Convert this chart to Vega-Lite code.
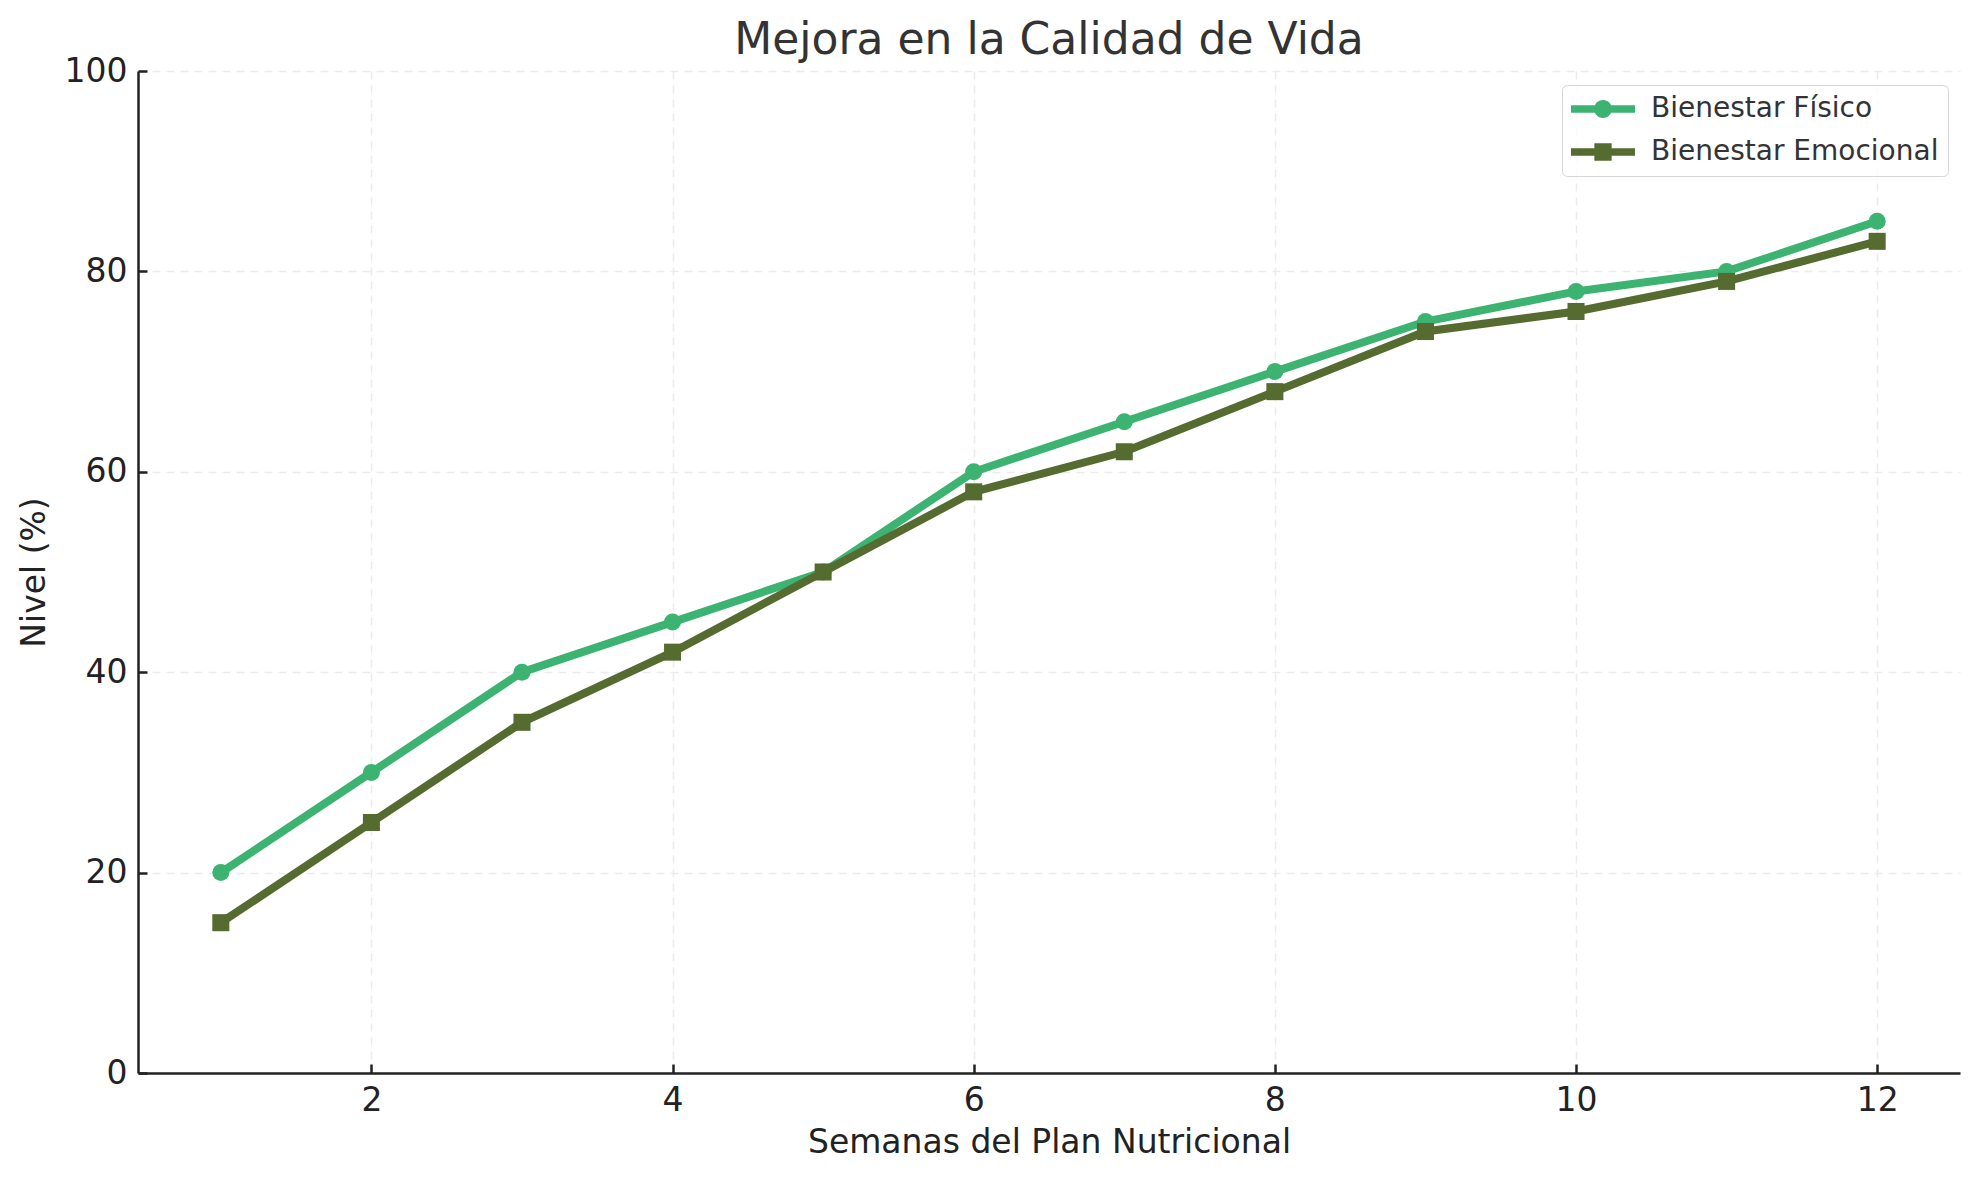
{
  "$schema": "https://vega.github.io/schema/vega-lite/v6.json",
  "width": 1822,
  "height": 1002,
  "autosize": {"type": "none"},
  "padding": {"left": 138, "top": 71, "right": 19, "bottom": 107},
  "background": "white",
  "config": {
    "font": "DejaVu Sans",
    "view": {"stroke": null},
    "axis": {
      "domainColor": "#222222",
      "domainWidth": 2.5,
      "tickColor": "#222222",
      "tickWidth": 2.5,
      "tickSize": -9,
      "labelFontSize": 33,
      "labelColor": "#222222",
      "labelPadding": 20,
      "labelFlush": false,
      "titleFontSize": 33,
      "titleColor": "#222222",
      "titleFontWeight": "normal",
      "grid": true,
      "gridColor": "#ebebeb",
      "gridDash": [8, 6],
      "gridWidth": 1.5
    }
  },
  "title": {
    "text": "Mejora en la Calidad de Vida",
    "fontSize": 44,
    "fontWeight": "normal",
    "color": "#333333",
    "anchor": "middle",
    "baseline": "alphabetic",
    "offset": 16,
    "dy": 59
  },
  "data": {
    "values": [
      {"week": 1, "value": 20, "series": "Bienestar Físico"},
      {"week": 2, "value": 30, "series": "Bienestar Físico"},
      {"week": 3, "value": 40, "series": "Bienestar Físico"},
      {"week": 4, "value": 45, "series": "Bienestar Físico"},
      {"week": 5, "value": 50, "series": "Bienestar Físico"},
      {"week": 6, "value": 60, "series": "Bienestar Físico"},
      {"week": 7, "value": 65, "series": "Bienestar Físico"},
      {"week": 8, "value": 70, "series": "Bienestar Físico"},
      {"week": 9, "value": 75, "series": "Bienestar Físico"},
      {"week": 10, "value": 78, "series": "Bienestar Físico"},
      {"week": 11, "value": 80, "series": "Bienestar Físico"},
      {"week": 12, "value": 85, "series": "Bienestar Físico"},
      {"week": 1, "value": 15, "series": "Bienestar Emocional"},
      {"week": 2, "value": 25, "series": "Bienestar Emocional"},
      {"week": 3, "value": 35, "series": "Bienestar Emocional"},
      {"week": 4, "value": 42, "series": "Bienestar Emocional"},
      {"week": 5, "value": 50, "series": "Bienestar Emocional"},
      {"week": 6, "value": 58, "series": "Bienestar Emocional"},
      {"week": 7, "value": 62, "series": "Bienestar Emocional"},
      {"week": 8, "value": 68, "series": "Bienestar Emocional"},
      {"week": 9, "value": 74, "series": "Bienestar Emocional"},
      {"week": 10, "value": 76, "series": "Bienestar Emocional"},
      {"week": 11, "value": 79, "series": "Bienestar Emocional"},
      {"week": 12, "value": 83, "series": "Bienestar Emocional"}
    ]
  },
  "encoding": {
    "x": {
      "field": "week",
      "type": "quantitative",
      "scale": {"domain": [0.45, 12.55], "nice": false, "zero": false},
      "axis": {"values": [2, 4, 6, 8, 10, 12], "title": "Semanas del Plan Nutricional", "titlePadding": 9}
    },
    "y": {
      "field": "value",
      "type": "quantitative",
      "scale": {"domain": [0, 100], "nice": false},
      "axis": {"values": [0, 20, 40, 60, 80, 100], "title": "Nivel (%)", "titlePadding": 13}
    },
    "color": {
      "field": "series",
      "type": "nominal",
      "scale": {"domain": ["Bienestar Físico", "Bienestar Emocional"], "range": ["#3CB371", "#556B2F"]},
      "legend": null
    }
  },
  "layer": [
    {
      "mark": {"type": "line", "strokeWidth": 8}
    },
    {
      "mark": {"type": "point", "filled": true, "size": 290, "opacity": 1},
      "encoding": {
        "shape": {
          "field": "series",
          "type": "nominal",
          "scale": {"domain": ["Bienestar Físico", "Bienestar Emocional"], "range": ["circle", "square"]},
          "legend": null
        }
      }
    },
    {
      "mark": {"type": "point", "filled": true, "opacity": 0},
      "encoding": {
        "color": {
          "field": "series",
          "type": "nominal",
          "scale": {"domain": ["Bienestar Físico", "Bienestar Emocional"], "range": ["#3CB371", "#556B2F"]},
          "legend": {
            "title": null,
            "orient": "none",
            "legendX": 1424,
            "legendY": 14,
            "symbolSize": 4096,
            "clipHeight": 30,
            "rowPadding": 13,
            "labelFontSize": 28,
            "labelColor": "#333333",
            "labelOffset": 16,
            "labelLimit": 0,
            "padding": 9,
            "strokeColor": "#d6d6d6",
            "fillColor": "rgba(255,255,255,0.8)",
            "cornerRadius": 5,
            "symbolStrokeWidth": 0,
            "symbolOpacity": 1
          }
        },
        "shape": {
          "field": "series",
          "type": "nominal",
          "scale": {
            "domain": ["Bienestar Físico", "Bienestar Emocional"],
            "range": [
              "M-1,-0.12H1V0.12H-1Z M0.28,0 A0.28,0.28 0 1,1 -0.28,0 A0.28,0.28 0 1,1 0.28,0Z",
              "M-1,-0.12H1V0.12H-1Z M-0.27,-0.27H0.27V0.27H-0.27Z"
            ]
          },
          "legend": {
            "title": null,
            "orient": "none",
            "legendX": 1424,
            "legendY": 14,
            "symbolSize": 4096,
            "clipHeight": 30,
            "rowPadding": 13,
            "labelFontSize": 28,
            "labelColor": "#333333",
            "labelOffset": 16,
            "labelLimit": 0,
            "padding": 9,
            "strokeColor": "#d6d6d6",
            "fillColor": "rgba(255,255,255,0.8)",
            "cornerRadius": 5,
            "symbolStrokeWidth": 0,
            "symbolOpacity": 1
          }
        }
      }
    }
  ],
  "resolve": {"scale": {"shape": "independent", "color": "independent"}}
}
